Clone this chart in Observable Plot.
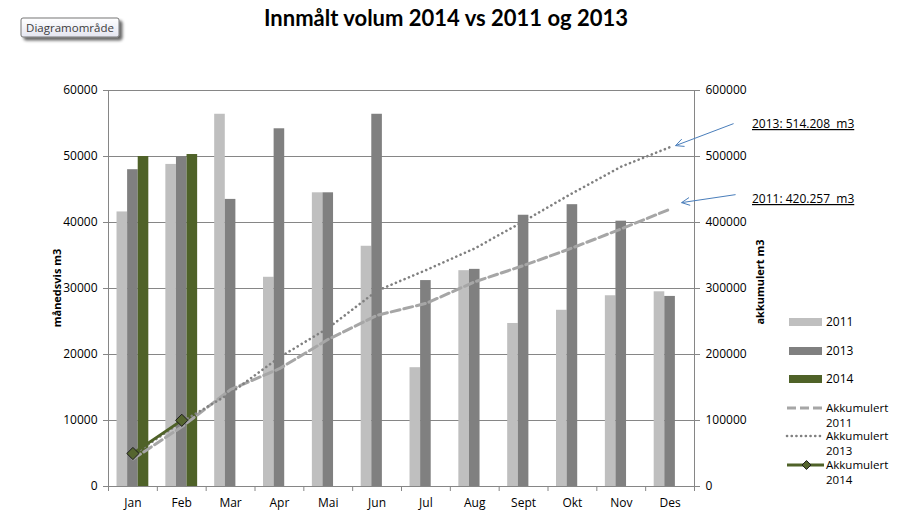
<!DOCTYPE html>
<html>
<head>
<meta charset="utf-8">
<script src="https://cdn.jsdelivr.net/npm/d3@7"></script>
<script src="https://cdn.jsdelivr.net/npm/@observablehq/plot@0.6"></script>
<style>
  html, body { margin: 0; padding: 0; background: #fff; }
  #chart { position: relative; width: 899px; height: 518px; }
</style>
</head>
<body>
<div id="chart"></div>
<script>
// ---- data ----
const months = ["Jan","Feb","Mar","Apr","Mai","Jun","Jul","Aug","Sept","Okt","Nov","Des"];
const vol2011 = [41600, 48800, 56400, 31700, 44500, 36400, 18000, 32700, 24700, 26700, 28900, 29500];
const vol2013 = [48000, 50000, 43500, 54200, 44500, 56400, 31200, 32900, 41100, 42700, 40200, 28800];
const vol2014 = [50000, 50300];
const akk2011 = [41600, 90400, 146800, 178500, 223000, 259400, 277400, 310100, 334800, 361500, 390400, 420257];
const akk2013 = [48000, 98000, 141500, 195700, 240200, 296600, 327800, 360700, 401800, 444500, 484700, 514208];
const akk2014 = [50000, 100300];
const leftTicks = [0, 10000, 20000, 30000, 40000, 50000, 60000];
const rightFactor = 10; // right axis = left axis * 10
const title = "Innmålt volum 2014 vs 2011 og 2013";
const note2013 = "2013: 514.208  m3";
const note2011 = "2011: 420.257  m3";

const W = 899, H = 518, mL = 108, mR = 205, mT = 90, mB = 32;
const bw = (W - mL - mR) / months.length;
const barW = 10.6;
const inset = (bw - barW) / 2;

const c2011 = "#bfbfbf", c2013 = "#808080", c2014 = "#4f6228";
const grid = "#868686";
const font = "'Open Sans', sans-serif";
const fs = 12;

const rows = (vals) => vals.map((v, i) => ({m: months[i], v}));

const chart = Plot.plot({
  width: W, height: H,
  marginLeft: mL, marginRight: mR, marginTop: mT, marginBottom: mB,
  style: {fontFamily: font, fontSize: fs + "px", color: "#000", background: "transparent"},
  x: {domain: months, padding: 0, round: false, label: null},
  y: {domain: [0, 60000], label: null},
  marks: [
    Plot.ruleY(leftTicks.slice(1, -1), {stroke: grid, strokeWidth: 1}),
    Plot.barY(rows(vol2011), {x: "m", y: "v", fill: c2011, insetLeft: inset, insetRight: inset, dx: -barW}),
    Plot.barY(rows(vol2013), {x: "m", y: "v", fill: c2013, insetLeft: inset, insetRight: inset}),
    Plot.barY(rows(vol2014), {x: "m", y: "v", fill: c2014, insetLeft: inset, insetRight: inset, dx: barW}),
    Plot.frame({stroke: grid, strokeWidth: 1}),
    Plot.axisY({anchor: "left", ticks: leftTicks, tickSize: 5, tickPadding: 6, tickFormat: d => String(d), label: null, stroke: grid}),
    Plot.axisY({anchor: "right", ticks: leftTicks, tickSize: 5, tickPadding: 6, tickFormat: d => String(d * rightFactor), label: null, stroke: grid}),
    Plot.axisX({tickSize: 0, tickPadding: 12, label: null}),
    Plot.axisX({ticks: months, tickSize: 5, tickFormat: () => "", dx: -bw / 2, label: null, stroke: grid}),
    Plot.axisX({ticks: [months[months.length - 1]], tickSize: 5, tickFormat: () => "", dx: bw / 2, label: null, stroke: grid}),
    Plot.line(rows(akk2011), {x: "m", y: d => d.v / rightFactor, stroke: "#a6a6a6", strokeWidth: 3, strokeDasharray: "9,4"}),
    Plot.line(rows(akk2013), {x: "m", y: d => d.v / rightFactor, stroke: "#808080", strokeWidth: 2.6, strokeDasharray: "0.1,4.6", strokeLinecap: "round"}),
    Plot.line(rows(akk2014), {x: "m", y: d => d.v / rightFactor, stroke: c2014, strokeWidth: 2.8}),
    Plot.dot(rows(akk2014), {x: "m", y: d => d.v / rightFactor, symbol: "diamond2", r: 5.5, fill: "#55652f", stroke: "#1a1a1a", strokeWidth: 1})
  ]
});

document.getElementById("chart").appendChild(chart);

const svg = d3.select(chart);
const xs = chart.scale("x"), ys = chart.scale("y");
const over = svg.append("g").attr("text-anchor", "start").attr("font-family", font).attr("font-size", fs);

// Title
over.append("text").attr("x", 446).attr("y", 26).attr("text-anchor", "middle")
  .attr("font-family", "Lato, sans-serif").attr("font-weight", "bold").attr("font-size", 22)
  .attr("fill", "#000").text(title);

// "Diagramområde" tooltip box
const defs = svg.append("defs");
const f = defs.append("filter").attr("id", "sh").attr("x", "-20%").attr("y", "-40%").attr("width", "150%").attr("height", "200%");
f.append("feGaussianBlur").attr("in", "SourceAlpha").attr("stdDeviation", 1.5).attr("result", "b");
f.append("feOffset").attr("in", "b").attr("dx", 3).attr("dy", 3).attr("result", "o");
f.append("feComponentTransfer").attr("in", "o").attr("result", "o2").append("feFuncA").attr("type", "linear").attr("slope", 0.6);
const mg = f.append("feMerge"); mg.append("feMergeNode").attr("in", "o2"); mg.append("feMergeNode").attr("in", "SourceGraphic");
const lg = defs.append("linearGradient").attr("id", "tipg").attr("x1", 0).attr("y1", 0).attr("x2", 0).attr("y2", 1);
lg.append("stop").attr("offset", "0%").attr("stop-color", "#ffffff");
lg.append("stop").attr("offset", "100%").attr("stop-color", "#e4e5f0");
over.append("rect").attr("x", 21).attr("y", 18).attr("width", 98).attr("height", 19).attr("rx", 2)
  .attr("fill", "url(#tipg)").attr("stroke", "#767676").attr("filter", "url(#sh)");
over.append("text").attr("x", 70).attr("y", 32).attr("text-anchor", "middle").attr("font-size", 11.5)
  .attr("fill", "#3c3c3c").text("Diagramområde");

// Axis titles
const midY = (mT + (H - mB)) / 2;
over.append("text").attr("transform", `translate(61,${midY}) rotate(-90)`).attr("text-anchor", "middle")
  .attr("font-weight", "bold").attr("font-size", 11).text("månedsvis m3");
over.append("text").attr("transform", `translate(764,${midY - 6}) rotate(-90)`).attr("text-anchor", "middle")
  .attr("font-weight", "bold").attr("font-size", 11).text("akkumulert m3");

// Legend
const lx = 789, lw = 33, tx = 826;
const leg = over.append("g").attr("fill", "#000");
[[c2011, "2011", 322], [c2013, "2013", 351], [c2014, "2014", 379]].forEach(([c, t, y]) => {
  leg.append("rect").attr("x", lx).attr("y", y - 4).attr("width", lw).attr("height", 8).attr("fill", c);
  leg.append("text").attr("x", tx).attr("y", y + 4).text(t);
});
const lineItems = [
  {y: 408, stroke: "#a6a6a6", w: 3, dash: "9,4", cap: "butt", t: "2011"},
  {y: 436, stroke: "#808080", w: 2.6, dash: "0.1,4.6", cap: "round", t: "2013"},
  {y: 465, stroke: c2014, w: 2.8, dash: null, cap: "butt", t: "2014"}
];
lineItems.forEach(it => {
  const l = leg.append("line").attr("x1", lx - 2).attr("x2", lx + lw + 2).attr("y1", it.y).attr("y2", it.y)
    .attr("stroke", it.stroke).attr("stroke-width", it.w).attr("stroke-linecap", it.cap);
  if (it.dash) l.attr("stroke-dasharray", it.dash);
  leg.append("text").attr("x", tx).attr("y", it.y + 4).attr("font-size", 11.5).text("Akkumulert");
  leg.append("text").attr("x", tx).attr("y", it.y + 19).attr("font-size", 11.5).text(it.t);
});
leg.append("path").attr("d", d3.symbol(d3.symbolDiamond2, 50)()).attr("transform", `translate(${lx + lw / 2 + 1},465)`)
  .attr("fill", "#55652f").attr("stroke", "#1a1a1a").attr("stroke-width", 1);

// Annotations with arrows (anchored to the data via the scales)
const desX = xs.apply(months[11]) + bw / 2;
const arrowCol = "#4a7ebb";
function annot(tipX, tipY, tailX, tailY, text, tyBase) {
  over.append("line").attr("x1", tailX).attr("y1", tailY).attr("x2", tipX).attr("y2", tipY)
    .attr("stroke", arrowCol).attr("stroke-width", 1);
  const a = Math.atan2(tipY - tailY, tipX - tailX), L = 9, s = 0.45;
  const p1 = [tipX - L * Math.cos(a - s), tipY - L * Math.sin(a - s)];
  const p2 = [tipX - L * Math.cos(a + s), tipY - L * Math.sin(a + s)];
  over.append("path").attr("d", `M${p1}L${tipX},${tipY}L${p2}`).attr("fill", "none")
    .attr("stroke", arrowCol).attr("stroke-width", 1);
  over.append("text").attr("x", 752).attr("y", tyBase)
    .attr("text-decoration", "underline").attr("fill", "#000").text(text);
}
const y13 = ys.apply(akk2013[11] / rightFactor), y11 = ys.apply(akk2011[11] / rightFactor);
annot(desX + 6, y13 - 1, desX + 64, y13 - 23, note2013, 128);
annot(desX + 12, y11 - 6, desX + 66, y11 - 14, note2011, 203);
</script>
</body>
</html>
